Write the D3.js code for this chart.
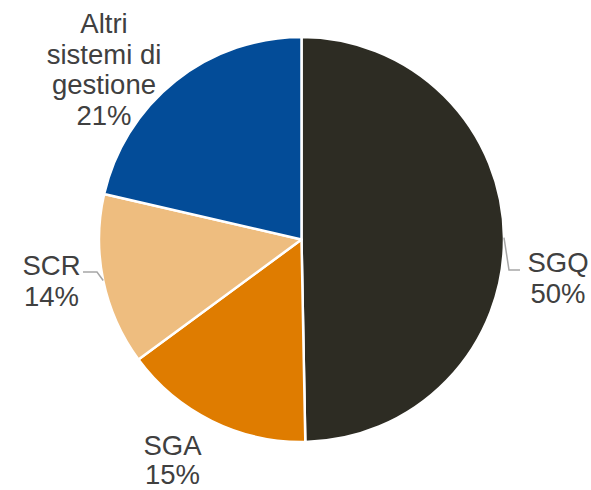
<!DOCTYPE html>
<html>
<head>
<meta charset="utf-8">
<script src="https://cdn.jsdelivr.net/npm/d3@7"></script>
<style>
  html, body { margin: 0; padding: 0; background: #ffffff; }
  svg { display: block; }
</style>
</head>
<body>
<svg id="chart" width="591" height="490"></svg>
<script>
// ---- data ----
const categories = ["SGQ", "SGA", "SCR", "Altri sistemi di gestione"];
const values = [49.7, 15.2, 13.7, 21.4];
const labelLines = [["SGQ"], ["SGA"], ["SCR"], ["Altri", "sistemi di", "gestione"]];
const colors = ["#2d2c23", "#df7c00", "#eebd7f", "#034c98"];

// ---- layout (label placement, not data) ----
const W = 591, H = 490;
const cx = 301.5, cy = 239.5, R = 202.5;
const labelLayout = [
  { x: 558, y: 272, lh: 30.5, leader: [[509, 270], [520, 270]] },
  { x: 172.5, y: 455, lh: 29, leader: null },
  { x: 51.5, y: 275, lh: 30.5, leader: [[97, 272], [83, 272]] },
  { x: 104, y: 33, lh: 30.5, leader: null }
];

const svg = d3.select("#chart");
const g = svg.append("g").attr("transform", `translate(${cx},${cy})`);

const data = categories.map((c, i) => ({ name: c, value: values[i], i }));
const pie = d3.pie().sort(null).value(d => d.value).startAngle(0).endAngle(2 * Math.PI);
const arcs = pie(data);
const arc = d3.arc().innerRadius(0).outerRadius(R);

g.selectAll("path.slice")
  .data(arcs)
  .join("path")
  .attr("class", "slice")
  .attr("d", arc)
  .attr("fill", d => colors[d.data.i])
  .attr("stroke", "#ffffff")
  .attr("stroke-width", 2.5)
  .attr("stroke-linejoin", "round");

// leader lines
arcs.forEach(a => {
  const L = labelLayout[a.data.i];
  if (!L.leader) return;
  const mid = (a.startAngle + a.endAngle) / 2;
  const sx = cx + R * Math.sin(mid), sy = cy - R * Math.cos(mid);
  const pts = [[sx, sy], ...L.leader];
  svg.append("path")
    .attr("d", d3.line()(pts))
    .attr("fill", "none")
    .attr("stroke", "#a6a6a6")
    .attr("stroke-width", 1.5);
});

// labels
arcs.forEach(a => {
  const i = a.data.i;
  const L = labelLayout[i];
  const lines = labelLines[i].concat([Math.round(a.data.value) + "%"]);
  const t = svg.append("text")
    .attr("text-anchor", "middle")
    .attr("font-family", "'Liberation Sans', Arial, sans-serif")
    .attr("font-size", 27.5)
    .attr("fill", "#404040");
  lines.forEach((ln, k) => {
    t.append("tspan").attr("x", L.x).attr("y", L.y + k * L.lh).text(ln);
  });
});
</script>
</body>
</html>
